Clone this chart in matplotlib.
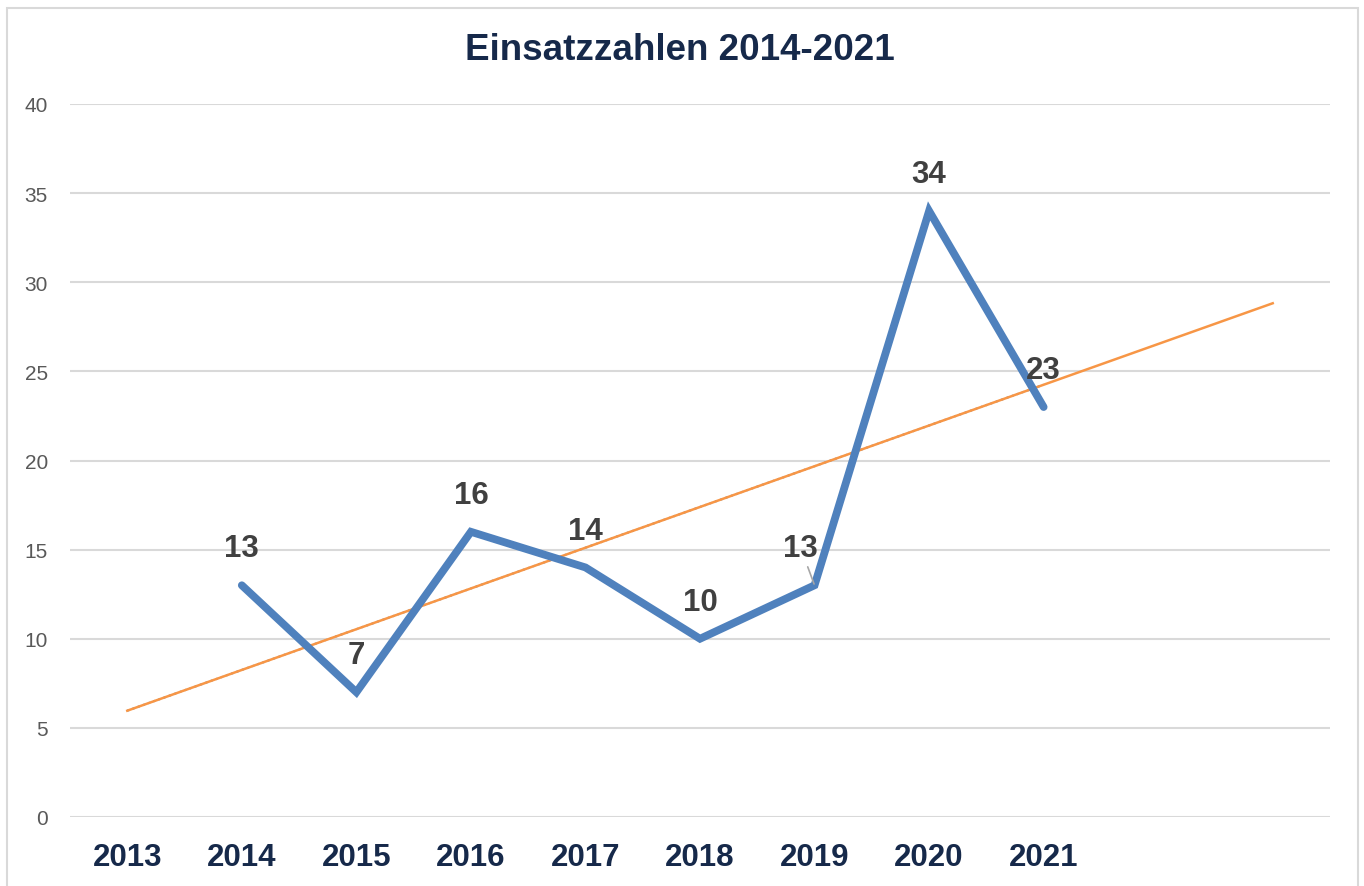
import matplotlib.pyplot as plt
import numpy as np
from matplotlib.patches import Rectangle

# Daten
jahre = ['2013', '2014', '2015', '2016', '2017', '2018', '2019', '2020', '2021']
einsaetze = [None, 13, 7, 16, 14, 10, 13, 34, 23]
n_kategorien = 11          # Excel-Achse reicht zwei Kategorien weiter (Trendlinie)
y_ticks = [0, 5, 10, 15, 20, 25, 30, 35, 40]

navy = '#16294A'
blau = '#4F81BD'
orange = '#F79646'
grau = '#404040'

plt.rcParams['font.family'] = ['Liberation Sans', 'DejaVu Sans']

fig = plt.figure(figsize=(13.64, 8.87), dpi=100)
ax = fig.add_axes([70/1364, 69/887, 1260/1364, 713/887])

# Rahmen um das Diagramm
fig.patches.append(Rectangle((7/1364, -0.05), 1351/1364, 0.05 + 878/887,
                             transform=fig.transFigure, fill=False,
                             edgecolor='#D9D9D9', linewidth=1.5))

x = np.arange(len(jahre))
werte = np.array([np.nan if v is None else v for v in einsaetze], dtype=float)

# lineare Trendlinie (wie Excel, x = 1..n)
maske = ~np.isnan(werte)
k, d = np.polyfit(x[maske] + 1, werte[maske], 1)
x_trend = np.array([0, n_kategorien - 1])
ax.plot([0, len(jahre) - 1], k * (np.array([0, len(jahre) - 1]) + 1) + d,
        color=blau, lw=1.5, ls=':', zorder=2)
ax.plot(x_trend, k * (x_trend + 1) + d, color=orange, lw=1.8, zorder=3)

ax.plot(x, werte, color=blau, lw=5.6, solid_capstyle='round',
        solid_joinstyle='miter', zorder=4)

for xi, v in zip(x, einsaetze):
    if v is None:
        continue
    if jahre[xi] == '2019':
        ax.annotate(str(v), (xi, v), xytext=(-10, 27), textcoords='offset points',
                    ha='center', va='center', fontsize=22.5, fontweight='bold', color=grau,
                    arrowprops=dict(arrowstyle='-', color='#A6A6A6', lw=1.2,
                                    shrinkA=1, shrinkB=1), zorder=5)
    else:
        ax.annotate(str(v), (xi, v), xytext=(0, 26.5), textcoords='offset points',
                    ha='center', va='center', fontsize=22.5, fontweight='bold',
                    color=grau, zorder=5)

ax.set_xlim(-0.5, n_kategorien - 0.5)
ax.set_ylim(0, 40)
ax.set_yticks(y_ticks)
ax.set_yticklabels([str(t) for t in y_ticks], fontsize=15, color='#595959')
ax.set_xticks(x)
ax.set_xticklabels(jahre, fontsize=22.5, fontweight='bold', color=navy)
ax.tick_params(axis='both', length=0)
ax.tick_params(axis='x', pad=18)
ax.tick_params(axis='y', pad=16)
ax.grid(axis='y', color='#D9D9D9', lw=1.5)
ax.set_axisbelow(True)
for s in ax.spines.values():
    s.set_visible(False)

fig.text(680/1364, 1 - 51/887, 'Einsatzzahlen 2014-2021', ha='center', va='center',
         fontsize=26.5, fontweight='bold', color=navy)

fig.savefig('out.png', dpi=100)
